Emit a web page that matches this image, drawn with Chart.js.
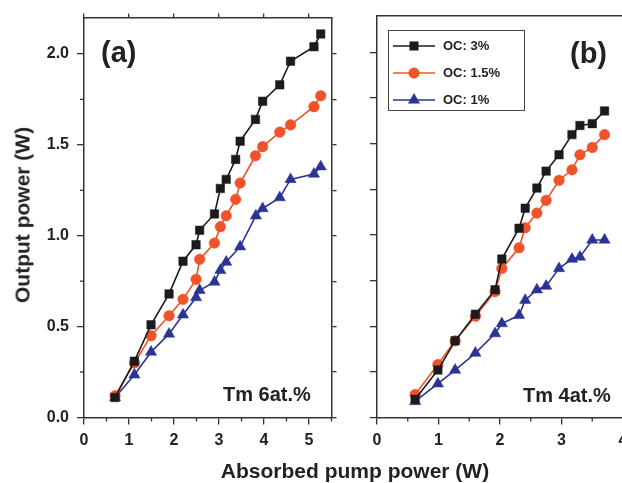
<!DOCTYPE html>
<html><head><meta charset="utf-8">
<script src="https://cdn.jsdelivr.net/npm/chart.js@4/dist/chart.umd.min.js"></script>
<style>
html,body{margin:0;padding:0;background:#fff;overflow:hidden;width:622px;height:483px;position:relative;}
canvas{position:absolute;top:0;}
.t{position:absolute;font-family:'Liberation Sans',Arial,sans-serif;font-weight:bold;color:#222;white-space:nowrap;line-height:1;}
</style></head><body>
<canvas id="ca" width="345" height="483" style="left:0px"></canvas>
<canvas id="cb" width="300" height="483" style="left:345px"></canvas>
<div class="t" style="left:22px;top:215px;font-size:21px;transform:translate(-50%,-50%) rotate(-90deg);">Output power (W)</div>
<div class="t" style="left:355px;top:470px;font-size:21px;transform:translate(-50%,-50%);">Absorbed pump power (W)</div>
<div class="t" style="left:101px;top:52px;font-size:29px;transform:translateY(-50%);">(a)</div>
<div class="t" style="left:570px;top:53px;font-size:29px;transform:translateY(-50%);">(b)</div>
<div class="t" style="left:223px;top:394px;font-size:20px;transform:translateY(-50%);">Tm 6at.%</div>
<div class="t" style="left:523px;top:395px;font-size:20px;transform:translateY(-50%);">Tm 4at.%</div>
<script>
// ---------- data ----------
const seriesNames = ['OC: 3%', 'OC: 1.5%', 'OC: 1%'];
// panel (a): Tm 6at.%
const xA    = [0.69,1.12,1.49,1.89,2.2,2.49,2.57,2.9,3.03,3.16,3.37,3.47,3.81,3.97,4.35,4.59,5.11,5.26];
const oc3A  = [0.11,0.31,0.51,0.68,0.86,0.95,1.03,1.12,1.26,1.31,1.42,1.52,1.64,1.74,1.83,1.96,2.04,2.11];
const oc15A = [0.12,0.30,0.45,0.56,0.65,0.76,0.87,0.96,1.05,1.11,1.20,1.29,1.44,1.49,1.57,1.61,1.71,1.77];
const xA1   = [0.69,1.12,1.49,1.89,2.2,2.49,2.57,2.9,3.03,3.16,3.47,3.82,3.97,4.35,4.59,5.11,5.26];
const oc1A  = [0.11,0.235,0.36,0.46,0.565,0.66,0.70,0.746,0.81,0.855,0.94,1.11,1.15,1.21,1.31,1.34,1.38];
// panel (b): Tm 4at.%
const xB    = [0.62,0.99,1.27,1.6,1.92,2.03,2.31,2.41,2.6,2.75,2.96,3.17,3.3,3.5,3.7];
const oc3B  = [0.10,0.26,0.42,0.566,0.70,0.868,1.037,1.147,1.257,1.35,1.44,1.55,1.60,1.61,1.68];
const oc15B = [0.126,0.29,0.42,0.555,0.69,0.817,0.93,1.04,1.12,1.19,1.30,1.357,1.44,1.48,1.55];
const oc1B  = [0.088,0.185,0.26,0.353,0.46,0.515,0.56,0.643,0.70,0.72,0.817,0.868,0.88,0.973,0.973];
// tick labels
const xTicksA = [0,1,2,3,4,5];
const xTicksB = [0,1,2,3,4];
const yTicks  = [0,0.5,1,1.5,2];
const yTicksAll = [0,0.25,0.5,0.75,1,1.25,1.5,1.75,2];

// ---------- styles ----------
const colors = ['#1b1b1b','#f0532a','#2b3394'];
const styles = ['rect','circle','triangle'];
const radii  = [6,5.3,6.5];
const AX = '#333';
const FONT = "'Liberation Sans', Arial, sans-serif";
const tickFont = {family:FONT, weight:'bold', size:16};

function pts(xs, ys){ return xs.map((x,i)=>({x:x, y:ys[i]})); }
function ds(i, xs, ys){
  return {label:seriesNames[i], data:pts(xs,ys), borderColor:colors[i], backgroundColor:colors[i],
    pointBackgroundColor:colors[i], pointBorderColor:colors[i], pointStyle:styles[i],
    pointRadius:radii[i], pointHoverRadius:radii[i], pointBorderWidth:0.5, borderWidth:1.6, tension:0, fill:false};
}
function setTicks(vals){ return s => { s.ticks = vals.map(v=>({value:v})); }; }
function grid(len){ return {drawOnChartArea:false, drawTicks:len>0, tickLength:len, color:AX, lineWidth:1.3}; }
const border = {display:true, color:AX, width:1.5};

const minorTicks = {
  id:'minorTicks',
  afterDraw(chart, args, opts){
    const ctx = chart.ctx; ctx.save(); ctx.strokeStyle = AX; ctx.lineWidth = 1.3;
    (opts.list||[]).forEach(m=>{
      const s = chart.scales[m.axis];
      for(let v=m.from; v<=m.to+1e-9; v+=m.step){
        const p = s.getPixelForValue(v);
        ctx.beginPath();
        if(s.isHorizontal()){
          const y = chart.chartArea.bottom;
          ctx.moveTo(p, y); ctx.lineTo(p, y + m.len);
        } else {
          const x = chart.chartArea.left;
          ctx.moveTo(x, p); ctx.lineTo(x - m.len, p);
        }
        ctx.stroke();
      }
    });
    ctx.restore();
  }
};

const legendBox = {
  id:'legendBox',
  afterDraw(chart){
    const ctx = chart.ctx, a = chart.chartArea;
    const bx = a.left + 11, by = a.top + 14, bw = 136, bh = 80;
    ctx.save();
    ctx.strokeStyle = '#444'; ctx.lineWidth = 1;
    ctx.strokeRect(Math.round(bx)+0.5, Math.round(by)+0.5, bw, bh);
    chart.data.datasets.forEach((d,i)=>{
      const yy = by + 16 + i*27;
      ctx.strokeStyle = d.borderColor; ctx.lineWidth = 1.6;
      ctx.beginPath(); ctx.moveTo(bx+5, yy); ctx.lineTo(bx+47, yy); ctx.stroke();
      ctx.fillStyle = d.backgroundColor; ctx.strokeStyle = d.borderColor; ctx.lineWidth = 0.5;
      Chart.helpers.drawPoint(ctx, {pointStyle:d.pointStyle, radius:d.pointRadius, borderWidth:0.5, rotation:0}, bx+26, yy);
      ctx.fillStyle = '#222'; ctx.font = 'bold 13px ' + FONT; ctx.textBaseline = 'middle'; ctx.textAlign = 'left';
      ctx.fillText(d.label, bx+55, yy);
    });
    ctx.restore();
  }
};

const common = {
  responsive:false, animation:false, maintainAspectRatio:false,
  plugins:{legend:{display:false}, tooltip:{enabled:false}},
  elements:{line:{borderWidth:1.6}}
};

new Chart(document.getElementById('ca'), {
  type:'line',
  data:{datasets:[ds(0,xA,oc3A), ds(1,xA,oc15A), ds(2,xA1,oc1A)]},
  options:Object.assign({}, common, {
    layout:{padding:0},
    plugins:{legend:{display:false}, tooltip:{enabled:false},
      minorTicks:{list:[{axis:'x',from:0.5,to:5.5,step:1,len:4},{axis:'y',from:0.25,to:1.75,step:0.5,len:4}]}},
    scales:{
      x:{type:'linear', position:'bottom', min:0, max:5.5, afterBuildTicks:setTicks(xTicksA),
         afterFit:s=>{s.height=65.5;}, grid:grid(7), border:border,
         ticks:{font:tickFont, color:'#222', padding:6, maxRotation:0, callback:v=>String(v)}},
      x2:{type:'linear', position:'top', min:0, max:5.5, afterBuildTicks:setTicks(xTicksA),
         afterFit:s=>{s.height=12.7;}, grid:grid(4), border:border, ticks:{display:false}},
      y:{type:'linear', position:'left', min:0, max:2.2, afterBuildTicks:setTicks(yTicks),
         afterFit:s=>{s.width=84;}, grid:grid(7), border:border,
         ticks:{font:tickFont, color:'#222', padding:8, callback:v=>Number(v).toFixed(1)}},
      y2:{type:'linear', position:'right', min:0, max:2.2, afterBuildTicks:setTicks(yTicksAll),
         afterFit:s=>{s.width=13.5;}, grid:grid(5), border:border, ticks:{display:false}}
    }
  }),
  plugins:[minorTicks]
});

new Chart(document.getElementById('cb'), {
  type:'line',
  data:{datasets:[ds(0,xB,oc3B), ds(1,xB,oc15B), ds(2,xB,oc1B)]},
  options:Object.assign({}, common, {
    layout:{padding:{left:0, right:22, top:0, bottom:0}},
    plugins:{legend:{display:false}, tooltip:{enabled:false},
      minorTicks:{list:[{axis:'x',from:0.5,to:3.5,step:1,len:4}]}},
    scales:{
      x:{type:'linear', position:'bottom', min:0, max:4, afterBuildTicks:setTicks(xTicksB),
         afterFit:s=>{s.height=65.5;}, grid:grid(7), border:border,
         ticks:{font:tickFont, color:'#222', padding:6, maxRotation:0, callback:v=>String(v)}},
      x2:{type:'linear', position:'top', min:0, max:4, afterBuildTicks:setTicks([]),
         afterFit:s=>{s.height=16;}, grid:grid(0), border:border, ticks:{display:false}},
      y:{type:'linear', position:'left', min:0, max:2.2, afterBuildTicks:setTicks(yTicksAll),
         afterFit:s=>{s.width=32;}, grid:grid(7), border:border, ticks:{display:false}}
    }
  }),
  plugins:[minorTicks, legendBox]
});
</script>
</body></html>
